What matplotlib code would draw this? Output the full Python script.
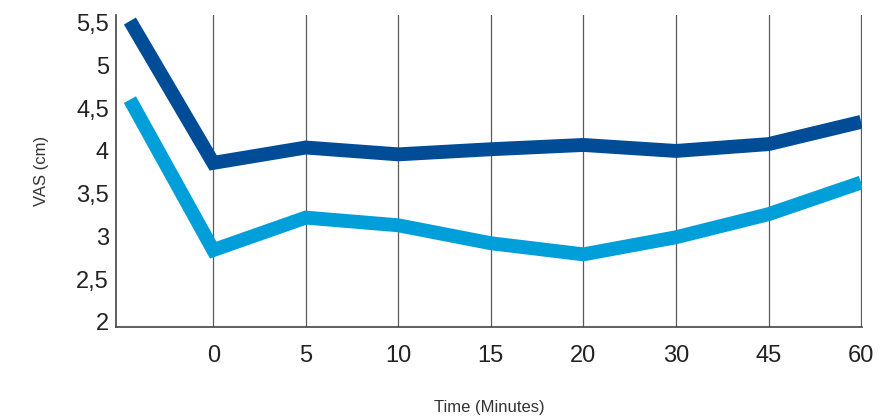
import matplotlib.pyplot as plt
import numpy as np

plt.rcParams['font.family'] = ['Liberation Sans', 'DejaVu Sans']

# time points (first point is the baseline before time 0, no label)
time_labels = ['', '0', '5', '10', '15', '20', '30', '45', '60']
vas_dark = [5.52, 3.86, 4.04, 3.96, 4.02, 4.07, 4.0, 4.08, 4.34]
vas_light = [4.60, 2.84, 3.22, 3.13, 2.92, 2.79, 2.99, 3.26, 3.63]
y_ticks = [2, 2.5, 3, 3.5, 4, 4.5, 5, 5.5]

x = np.arange(len(time_labels)) - 1.0
x[0] = -0.9  # baseline point sits just right of the y axis

fig = plt.figure(figsize=(8.87, 4.18), dpi=100)
ax = fig.add_axes([0.1308, 0.2177, 0.8410, 0.7463])

# vertical gridlines at the labelled time points
for xi in x[1:]:
    ax.axvline(xi, color='#5a5a5a', lw=0.9, zorder=1)

ax.plot(x, vas_dark, color='#004c97', lw=10, solid_joinstyle='miter',
        solid_capstyle='butt', zorder=3)
ax.plot(x, vas_light, color='#009fda', lw=10, solid_joinstyle='miter',
        solid_capstyle='butt', zorder=3)

ax.set_xlim(-1.05, 7.01)
ax.set_ylim(1.94, 5.59)

ax.set_xticks(x[1:])
ax.set_xticklabels(time_labels[1:])
ax.set_yticks(y_ticks)
ax.set_yticklabels([f'{v:g}'.replace('.', ',') for v in y_ticks])
ax.tick_params(axis='both', length=0, labelsize=17, colors='#222222')
ax.tick_params(axis='x', pad=13)
ax.tick_params(axis='y', pad=5)

for side in ['top', 'right']:
    ax.spines[side].set_visible(False)
for side in ['left', 'bottom']:
    ax.spines[side].set_color('#444444')
    ax.spines[side].set_linewidth(1.2)

ax.set_xlabel('Time (Minutes)', fontsize=12, color='#333333', labelpad=24)
ax.set_ylabel('VAS (cm)', fontsize=12, color='#333333', labelpad=20)

fig.savefig('out.png', dpi=100)
